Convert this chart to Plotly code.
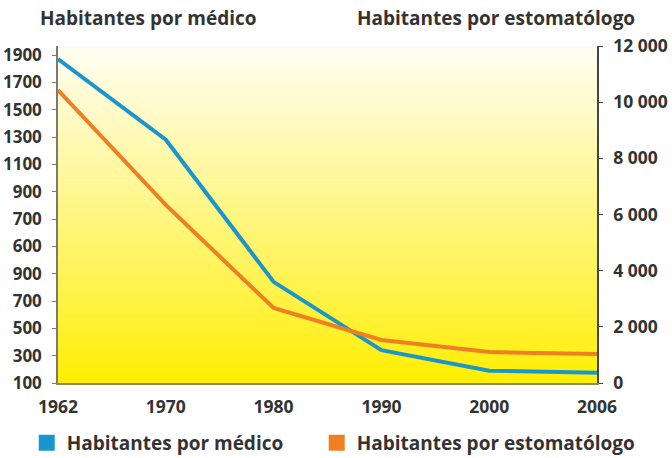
import plotly.graph_objects as go

# ---- data ----
years = ["1962", "1970", "1980", "1990", "2000", "2006"]
# médico series expressed on the left axis' linear scale (tick i sits at 100 + 200*i)
habitantes_por_medico = [2470, 1880, 840, 340, 190, 175]
habitantes_por_estomatologo = [10430, 6340, 2670, 1530, 1100, 1030]

left_tick_vals = [100 + 200 * i for i in range(13)]
left_tick_text = ["100", "300", "500", "700", "900", "600", "700", "900",
                  "1100", "1300", "1500", "1700", "1900"]
right_tick_vals = [0, 2000, 4000, 6000, 8000, 10000, 12000]
right_tick_text = ["0", "2 000", "4 000", "6 000", "8 000", "10 000", "12 000"]

title_left = "Habitantes por médico"
title_right = "Habitantes por estomatólogo"

BLUE = "#1b96cc"
ORANGE = "#ef7f22"
TXT = "#333333"
FONT = "Open Sans"

fig = go.Figure()

fig.add_trace(go.Scatter(x=years, y=habitantes_por_medico, mode="lines",
                         line=dict(color=BLUE, width=4), yaxis="y",
                         showlegend=False, name=title_left))
fig.add_trace(go.Scatter(x=years, y=habitantes_por_estomatologo, mode="lines",
                         line=dict(color=ORANGE, width=4), yaxis="y2",
                         showlegend=False, name=title_right))
# legend entries (square swatches)
fig.add_trace(go.Scatter(x=[None], y=[None], mode="markers",
                         marker=dict(symbol="square", size=16, color=BLUE),
                         name=title_left, showlegend=True, legend="legend"))
fig.add_trace(go.Scatter(x=[None], y=[None], mode="markers",
                         marker=dict(symbol="square", size=16, color=ORANGE),
                         name=title_right, showlegend=True, legend="legend2"))

# gradient background built from stacked bands (pale at top, yellow at bottom)
shapes = []
n = 80
top = (255, 253, 242)
bot = (255, 238, 0)
for i in range(n):
    t0 = i / n
    t1 = (i + 1) / n
    f = (i / (n - 1)) ** 0.9  # 0 at bottom band, 1 at top band
    c = tuple(round(bot[k] + (top[k] - bot[k]) * f) for k in range(3))
    shapes.append(dict(type="rect", xref="paper", yref="paper",
                       x0=0, x1=1, y0=t0, y1=min(t1 + 0.002, 1), layer="below",
                       line=dict(width=0), fillcolor="rgb(%d,%d,%d)" % c))

legend_font = dict(family=FONT, size=19, color=TXT, weight="bold")
title_font = dict(family=FONT, size=19, color=TXT, weight="bold")

fig.update_layout(
    width=672, height=458,
    margin=dict(l=58, r=75, t=46, b=75, autoexpand=False),
    paper_bgcolor="white",
    plot_bgcolor="rgba(0,0,0,0)",
    font=dict(family=FONT, size=17, color=TXT, weight="bold"),
    shapes=shapes,
    xaxis=dict(type="category", range=[0, 5], showgrid=False, zeroline=False,
               showline=True, linecolor="#8c8a55", linewidth=2,
               ticks="", ticklabelstandoff=7,
               tickfont=dict(family=FONT, size=17.5, color=TXT, weight="bold")),
    yaxis=dict(range=[100, 2566], tickvals=left_tick_vals, ticktext=left_tick_text,
               showgrid=False, zeroline=False, showline=True,
               linecolor="#7a7a70", linewidth=1.5, ticks="outside", ticklen=4,
               tickcolor="#7a7a70", ticklabelstandoff=7,
               tickfont=dict(family=FONT, size=17, color=TXT, weight="bold")),
    yaxis2=dict(range=[0, 12000], overlaying="y", side="right",
                tickvals=right_tick_vals, ticktext=right_tick_text,
                showgrid=False, zeroline=False, showline=True,
                linecolor="#444444", linewidth=1.5, ticks="outside", ticklen=4,
                tickcolor="#444444", ticklabelstandoff=7,
                tickfont=dict(family=FONT, size=17.5, color=TXT, weight="bold")),
    legend=dict(orientation="h", x=-0.058, xanchor="left", y=-0.178, yanchor="middle",
                font=legend_font, bgcolor="rgba(0,0,0,0)"),
    legend2=dict(orientation="h", x=0.48, xanchor="left", y=-0.178, yanchor="middle",
                 font=legend_font, bgcolor="rgba(0,0,0,0)"),
    annotations=[
        dict(text=title_left, xref="paper", yref="paper", x=-0.037, y=1.083,
             xanchor="left", yanchor="middle", showarrow=False, font=title_font),
        dict(text=title_right, xref="paper", yref="paper", x=1.074, y=1.083,
             xanchor="right", yanchor="middle", showarrow=False, font=title_font),
    ],
)

fig.write_html("out.html", config={"displayModeBar": False},
               post_script="document.body.style.margin='0';document.body.style.overflow='hidden';")
